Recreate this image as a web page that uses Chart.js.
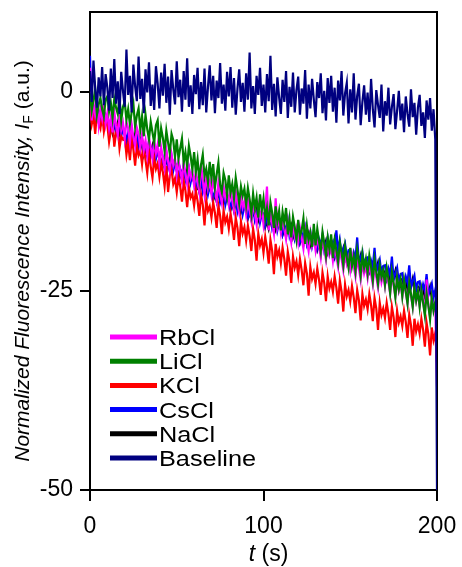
<!DOCTYPE html>
<html>
<head>
<meta charset="utf-8">
<script src="https://cdn.jsdelivr.net/npm/chart.js@4.4.1/dist/chart.umd.min.js"></script>
<style>
  html, body { margin: 0; padding: 0; background: #fff; }
  #wrap { width: 462px; height: 567px; }
</style>
</head>
<body>
<div id="wrap"><canvas id="fluoChart" width="462" height="567"></canvas></div>
<script>
// sampling grid, seconds (one reading per second)
const times = Array.from({ length: 201 }, (_, i) => i);

const xTicks = [0, 100, 200];
const yTicks = [-50, -25, 0];

// series, 201 points each (t = 0..200 s)
const rbcl = [
  3.0, -3.6, -1.4, -2.9, -1.8, -4.2, -2.3, -3.4, -1.6, -4.0,
  -2.7, -4.6, -3.2, -5.1, -2.5, -4.3, -5.4, -3.0, -4.8, -3.9,
  -5.9, -3.8, -4.6, -6.4, -4.1, -5.7, -6.8, -4.5, -5.3, -7.0,
  -5.4, -7.3, -6.1, -8.0, -5.8, -7.0, -8.4, -6.2, -7.7, -6.6,
  -8.9, -7.0, -8.3, -9.6, -7.3, -8.7, -10.0, -7.9, -9.2, -8.4,
  -10.4, -8.6, -9.9, -11.2, -8.8, -10.3, -11.6, -9.5, -10.8, -10.0,
  -11.8, -10.0, -11.4, -12.6, -9.0, -11.1, -12.9, -10.6, -12.2, -11.3,
  -12.9, -11.1, -12.4, -13.7, -11.4, -12.8, -14.0, -11.9, -13.3, -12.5,
  -14.1, -12.3, -13.6, -14.9, -12.6, -14.0, -15.2, -13.1, -14.5, -13.7,
  -15.4, -13.6, -14.9, -16.2, -13.9, -15.3, -16.6, -14.4, -15.8, -14.8,
  -16.7, -14.9, -11.9, -17.4, -15.2, -16.5, -17.8, -13.4, -17.0, -16.0,
  -17.7, -15.9, -17.2, -18.5, -16.2, -17.5, -18.9, -16.6, -18.1, -17.2,
  -18.9, -17.1, -18.4, -19.7, -17.3, -18.7, -20.0, -17.8, -19.3, -18.4,
  -19.9, -18.1, -19.4, -20.8, -18.4, -19.7, -21.1, -18.9, -20.4, -19.5,
  -21.2, -19.3, -20.7, -22.0, -19.6, -21.0, -22.4, -20.2, -21.6, -20.8,
  -22.4, -20.6, -21.9, -23.2, -20.9, -22.2, -23.6, -21.4, -22.8, -21.9,
  -23.4, -21.6, -22.9, -24.2, -21.8, -23.2, -24.6, -22.4, -23.9, -22.9,
  -24.4, -22.6, -23.9, -25.3, -22.9, -24.3, -25.7, -23.5, -25.0, -24.1,
  -25.7, -23.9, -25.2, -26.6, -24.2, -25.6, -27.0, -24.8, -26.3, -25.3,
  -26.9, -25.0, -26.4, -27.8, -23.6, -26.8, -28.2, -25.9, -27.4, -26.6,
  -37.0
];
const licl = [
  -0.2, -2.4, -1.1, 0.3, -2.9, -1.6, -0.8, -2.2, -3.1, -1.0,
  -0.6, -2.5, -1.4, -3.3, -0.9, -2.0, -2.8, -0.7, -3.6, -1.9,
  -1.3, -3.5, -2.2, -4.1, -2.6, -1.5, -4.4, -3.0, -2.1, -4.8,
  -3.1, -5.6, -2.9, -4.7, -6.0, -3.8, -5.1, -6.4, -4.2, -3.6,
  -6.9, -4.6, -5.8, -7.5, -4.9, -6.4, -7.8, -5.3, -6.1, -8.2,
  -6.0, -8.4, -7.1, -5.9, -8.9, -7.6, -9.4, -6.8, -8.1, -9.8,
  -7.6, -10.1, -8.5, -11.0, -9.2, -7.9, -10.6, -9.7, -11.4, -8.8,
  -10.9, -9.1, -12.0, -10.4, -8.9, -11.7, -12.6, -10.2, -11.1, -13.0,
  -10.5, -12.7, -11.6, -13.4, -10.8, -12.3, -14.0, -11.9, -13.1, -12.2,
  -14.2, -12.1, -13.5, -15.3, -12.8, -14.6, -13.3, -15.8, -12.9, -14.9,
  -13.4, -15.9, -14.6, -16.8, -13.9, -15.2, -17.1, -14.4, -16.3, -15.0,
  -17.4, -15.1, -16.5, -14.6, -17.9, -16.0, -18.3, -15.7, -17.0, -18.6,
  -16.1, -18.2, -17.4, -15.9, -19.1, -16.8, -18.6, -17.7, -19.5, -16.6,
  -19.3, -17.2, -18.8, -20.1, -17.6, -19.0, -20.6, -18.3, -19.8, -17.9,
  -20.9, -18.6, -19.9, -21.4, -18.9, -20.2, -21.8, -19.4, -20.8, -22.1,
  -19.6, -21.9, -20.7, -22.5, -19.8, -21.2, -23.0, -20.4, -22.1, -21.0,
  -22.8, -20.6, -22.0, -23.7, -21.1, -22.6, -24.1, -21.8, -23.3, -22.4,
  -24.2, -22.1, -23.5, -25.3, -22.6, -24.0, -25.8, -23.3, -24.8, -23.6,
  -25.7, -23.6, -25.1, -26.6, -24.0, -25.4, -27.0, -24.6, -26.2, -25.0,
  -27.0, -24.9, -26.5, -28.1, -25.3, -26.8, -28.6, -25.9, -27.5, -26.4,
  -28.3
];
const kcl = [
  -2.0, -4.1, -3.0, -5.3, -2.6, -3.9, -4.6, -2.8, -5.0, -3.7,
  -4.2, -6.3, -4.9, -3.8, -6.9, -5.2, -4.4, -7.1, -5.6, -6.0,
  -5.7, -7.9, -6.4, -8.6, -5.9, -7.2, -9.3, -6.8, -8.0, -7.4,
  -9.1, -7.0, -8.6, -10.2, -7.6, -9.4, -10.8, -8.3, -9.7, -9.0,
  -10.7, -8.9, -10.1, -11.9, -9.3, -12.6, -10.5, -9.8, -11.6, -10.9,
  -12.6, -10.7, -11.9, -13.8, -11.2, -12.4, -14.5, -12.0, -13.3, -12.8,
  -14.3, -12.4, -13.7, -15.6, -12.9, -14.2, -16.8, -13.6, -15.0, -14.4,
  -15.8, -13.9, -15.2, -17.1, -14.3, -15.6, -17.9, -14.9, -16.4, -15.7,
  -17.2, -15.3, -16.7, -18.6, -15.8, -17.1, -19.4, -16.3, -17.8, -17.0,
  -18.7, -16.8, -18.1, -20.0, -17.2, -18.6, -21.2, -17.8, -19.3, -18.5,
  -20.2, -18.2, -19.6, -21.6, -18.6, -20.0, -22.9, -19.1, -20.7, -19.9,
  -21.5, -19.6, -21.0, -23.1, -20.1, -21.4, -24.0, -20.7, -22.1, -21.3,
  -23.0, -21.0, -22.4, -24.3, -21.5, -22.8, -25.6, -22.0, -23.5, -22.7,
  -24.1, -22.2, -23.6, -25.5, -22.7, -24.0, -26.3, -23.2, -24.7, -23.9,
  -25.1, -23.2, -24.6, -26.6, -23.7, -25.1, -27.6, -24.2, -25.7, -24.9,
  -26.3, -24.4, -25.8, -27.8, -24.9, -26.2, -28.7, -25.4, -26.9, -26.1,
  -27.3, -25.4, -26.8, -28.8, -25.9, -27.2, -29.9, -26.5, -28.0, -27.2,
  -28.4, -26.5, -27.9, -29.9, -27.0, -28.3, -30.8, -27.5, -29.0, -28.2,
  -29.4, -27.5, -28.9, -30.9, -28.0, -29.3, -31.9, -28.5, -30.1, -29.2,
  -30.4, -28.5, -29.9, -32.0, -29.0, -30.4, -33.1, -29.6, -31.2, -30.3,
  -34.0
];
const cscl = [
  4.5, -3.9, -2.1, -3.3, -1.8, -2.6, -4.0, -2.4, -3.6, -2.9,
  -3.5, -5.0, -3.9, -4.8, -3.4, -5.3, -4.5, -3.8, -5.6, -4.6,
  -4.8, -6.3, -5.2, -6.0, -4.7, -6.6, -5.8, -5.1, -6.9, -5.9,
  -6.3, -7.8, -6.7, -7.5, -6.2, -8.1, -7.3, -6.6, -8.4, -7.4,
  -7.8, -9.3, -8.2, -9.0, -7.7, -9.6, -8.8, -8.1, -9.9, -8.9,
  -9.3, -10.8, -9.7, -10.5, -9.2, -11.1, -10.3, -9.6, -11.4, -10.4,
  -10.8, -12.3, -11.2, -12.0, -10.7, -12.6, -11.8, -11.1, -12.9, -11.9,
  -12.1, -13.6, -12.5, -13.3, -12.0, -13.9, -13.1, -12.4, -14.2, -13.2,
  -13.3, -14.8, -13.7, -14.5, -13.2, -15.1, -14.3, -13.6, -15.4, -14.4,
  -14.3, -15.8, -14.7, -15.5, -14.2, -16.1, -15.3, -14.6, -16.4, -15.4,
  -15.3, -16.8, -15.7, -16.5, -15.2, -17.1, -16.3, -15.6, -17.4, -16.4,
  -16.3, -17.8, -16.7, -17.5, -16.2, -18.1, -17.3, -16.6, -18.4, -17.4,
  -17.3, -18.8, -17.7, -18.5, -17.2, -19.1, -18.3, -17.6, -19.4, -18.4,
  -18.1, -19.6, -18.5, -19.3, -18.0, -19.9, -19.1, -18.4, -20.2, -19.2,
  -18.8, -20.3, -17.4, -20.0, -18.7, -20.6, -19.8, -19.1, -20.9, -19.9,
  -19.8, -21.3, -20.2, -21.0, -18.3, -21.6, -20.8, -20.1, -21.9, -20.9,
  -20.8, -22.3, -21.2, -22.0, -19.6, -22.6, -21.8, -21.1, -22.9, -21.9,
  -21.8, -23.3, -22.2, -23.0, -20.7, -23.6, -22.8, -22.1, -23.9, -22.9,
  -22.8, -24.3, -23.2, -24.0, -21.8, -24.6, -23.8, -23.1, -24.9, -23.9,
  -23.8, -25.3, -24.2, -25.0, -22.9, -25.6, -24.8, -24.1, -25.9, -24.9,
  -25.8
];
const nacl = [
  -2.5, -3.6, -2.9, -3.9, -2.7, -3.4, -2.4, -3.8, -3.1, -3.5,
  -4.0, -5.0, -4.3, -5.2, -4.1, -4.8, -3.9, -5.3, -4.6, -4.9,
  -5.4, -6.4, -5.7, -6.6, -5.5, -6.2, -5.3, -6.7, -6.0, -6.3,
  -6.9, -7.9, -7.2, -8.1, -7.0, -7.7, -6.8, -8.2, -7.5, -7.8,
  -8.4, -9.4, -8.7, -9.6, -8.5, -9.2, -8.3, -9.7, -9.0, -9.3,
  -9.9, -10.9, -10.2, -11.1, -10.0, -10.7, -9.8, -11.2, -10.5, -10.8,
  -11.4, -12.4, -11.7, -12.6, -11.5, -12.2, -11.3, -12.7, -12.0, -12.3,
  -12.6, -13.6, -12.9, -13.8, -12.7, -13.4, -12.5, -13.9, -13.2, -13.5,
  -13.8, -14.8, -14.1, -15.0, -13.9, -14.6, -13.7, -15.1, -14.4, -14.7,
  -14.9, -15.9, -15.2, -16.1, -15.0, -15.7, -14.8, -16.2, -15.5, -15.8,
  -16.0, -17.0, -16.3, -17.2, -16.1, -16.8, -15.9, -17.3, -16.6, -16.9,
  -17.0, -18.0, -17.3, -18.2, -17.1, -17.8, -16.9, -18.3, -17.6, -17.9,
  -18.0, -19.0, -18.3, -19.2, -18.1, -18.8, -17.9, -19.3, -18.6, -18.9,
  -18.9, -19.9, -19.2, -20.1, -19.0, -19.7, -18.8, -20.2, -19.5, -19.8,
  -19.8, -20.8, -20.1, -21.0, -19.9, -20.6, -19.7, -21.1, -20.4, -20.7,
  -20.7, -21.7, -21.0, -21.9, -20.8, -21.5, -20.6, -22.0, -21.3, -21.6,
  -21.6, -22.6, -21.9, -22.8, -21.7, -22.4, -21.5, -22.9, -22.2, -22.5,
  -22.6, -23.6, -22.9, -23.8, -22.7, -23.4, -22.5, -23.9, -23.2, -23.5,
  -23.6, -24.6, -23.9, -24.8, -23.7, -24.4, -23.5, -24.9, -24.2, -24.5,
  -24.6, -25.6, -24.9, -25.8, -24.7, -25.4, -24.5, -25.9, -25.2, -25.5,
  -26.0
];
const baseline = [
  2.6, -1.3, 3.9, 0.4, -2.0, 1.8, -0.6, 3.1, -1.7, 2.2,
  0.5, -2.4, 2.9, -0.8, 4.1, -1.5, 1.3, -2.8, 2.5, 0.1,
  -1.9, 5.3, -0.4, 2.0, -2.6, 3.4, 0.7, -1.2, 4.4, -0.9,
  1.6, -2.7, 2.8, -0.1, 3.7, -1.8, 0.9, -2.3, 3.2, 1.0,
  -2.1, 2.4, -0.5, 3.5, -1.4, 1.9, -2.9, 2.7, 0.3, -1.6,
  3.8, -0.7, 1.5, -2.5, 2.6, -1.0, 4.2, -1.9, 0.8, -2.8,
  2.1, -0.3, 3.0, -2.2, 1.2, -1.7, 2.9, -2.6, 0.6, 3.3,
  -1.1, 2.0, -2.7, 1.4, -0.8, 3.6, -1.5, 0.9, -2.4, 2.5,
  -0.6, 3.1, -2.0, 1.7, -2.9, 0.4, 2.8, -1.3, 1.1, -2.5,
  2.3, -1.0, 4.9, -2.1, 0.7, -2.8, 2.0, -0.4, 3.0, -1.8,
  0.9, -2.6, 2.2, -1.2, 4.5, -2.3, 1.0, -3.1, 1.8, -0.7,
  -2.8, 1.5, -1.3, 2.6, -3.3, 0.6, -1.9, 2.4, -2.6, 0.2,
  1.9, -2.9, 0.4, -1.5, 2.7, -3.4, 0.9, -2.1, 1.6, -1.0,
  -3.2, 1.2, -0.8, 2.3, -2.7, 0.1, -3.6, 1.7, -1.4, 2.0,
  -2.5, 0.5, -3.9, 1.4, -1.1, 2.6, -3.0, -0.2, 1.1, -4.0,
  0.3, -2.6, 2.3, -3.5, -0.5, 1.0, -4.2, -1.3, 0.8, -2.9,
  -0.1, -3.8, 1.6, -2.2, -4.5, 0.2, -1.7, -3.3, 0.9, -5.0,
  -1.2, -3.0, 0.5, -4.1, -1.9, -0.3, -4.7, -2.4, 0.1, -3.6,
  -1.5, -5.1, -0.6, -2.8, -4.4, 0.3, -3.2, -1.4, -5.4, -2.0,
  -0.4, -4.3, -2.6, -5.8, -1.1, -3.5, -0.8, -4.9, -2.2, -6.0,
  -50.0
];

const FONT = "'Liberation Sans', Arial, sans-serif";

function pts(values) { return values.map((v, i) => ({ x: times[i], y: v })); }

// legend drawn inside the plot, lower left
const insideLegend = {
  id: 'insideLegend',
  afterDraw(chart) {
    const { ctx, chartArea } = chart;
    const x0 = chartArea.left + 20, y0 = chartArea.bottom - 153, step = 24.2;
    ctx.save();
    chart.data.datasets.forEach((ds, i) => {
      const y = y0 + i * step;
      ctx.strokeStyle = ds.borderColor;
      ctx.lineWidth = 5;
      ctx.beginPath(); ctx.moveTo(x0, y); ctx.lineTo(x0 + 47, y); ctx.stroke();
      ctx.save();
      ctx.fillStyle = '#000';
      ctx.font = '22px ' + FONT;
      ctx.textBaseline = 'alphabetic';
      ctx.translate(x0 + 49, y + 8);
      ctx.scale(1.15, 1);
      ctx.fillText(ds.label, 0, 0);
      ctx.restore();
    });
    ctx.restore();
  }
};

// frame + axis titles (mixed italic / subscript)
const frameAndTitles = {
  id: 'frameAndTitles',
  beforeDatasetsDraw(chart) {
    const { ctx, chartArea: a } = chart;
    ctx.save();
    ctx.strokeStyle = '#000'; ctx.lineWidth = 2;
    ctx.beginPath();
    ctx.moveTo(a.left, a.top); ctx.lineTo(a.right, a.top); ctx.lineTo(a.right, a.bottom);
    ctx.stroke();
    ctx.restore();
  },
  afterDraw(chart) {
    const { ctx, chartArea: a } = chart;
    ctx.save();
    ctx.fillStyle = '#000';
    ctx.textBaseline = 'alphabetic';
    // y title
    const yParts = [
      ['Normalized Fluorescence Intensity, ', 'italic 21px ' + FONT, 0],
      ['I', 'italic 21px ' + FONT, 0],
      ['F', '14px ' + FONT, 4],
      [' (a.u.)', '21px ' + FONT, 0]
    ];
    ctx.translate(29, (a.top + a.bottom) / 2 + 10);
    ctx.rotate(-Math.PI / 2);
    let total = 0;
    yParts.forEach(p => { ctx.font = p[1]; total += ctx.measureText(p[0]).width; });
    let x = -total / 2;
    yParts.forEach(p => { ctx.font = p[1]; ctx.fillText(p[0], x, p[2]); x += ctx.measureText(p[0]).width; });
    ctx.restore();
    // x title
    ctx.save();
    ctx.fillStyle = '#000';
    const xParts = [['t', 'italic 23px ' + FONT], [' (s)', '23px ' + FONT]];
    total = 0;
    xParts.forEach(p => { ctx.font = p[1]; total += ctx.measureText(p[0]).width; });
    x = (a.left + a.right) / 2 + 5 - total / 2;
    xParts.forEach(p => { ctx.font = p[1]; ctx.fillText(p[0], x, 561); x += ctx.measureText(p[0]).width; });
    ctx.restore();
  }
};

const line = (label, data, color, order) => ({
  label, data: pts(data), borderColor: color, backgroundColor: color,
  borderWidth: 2.2, pointRadius: 0, tension: 0, fill: false, order
});

new Chart(document.getElementById('fluoChart'), {
  type: 'line',
  data: {
    datasets: [
      line('RbCl', rbcl, '#FF00FF', 2),
      line('LiCl', licl, '#008000', 1),
      line('KCl', kcl, '#FF0000', 3),
      line('CsCl', cscl, '#0000FF', 4),
      line('NaCl', nacl, '#000000', 5),
      line('Baseline', baseline, '#000080', 0)
    ]
  },
  options: {
    responsive: false, animation: false, events: [],
    layout: { padding: { top: 12, right: 25, left: 0, bottom: 0 } },
    plugins: { legend: { display: false }, tooltip: { enabled: false } },
    scales: {
      x: {
        type: 'linear', min: 0, max: 200,
        afterBuildTicks: s => { s.ticks = xTicks.map(v => ({ value: v })); },
        afterFit: s => { s.height = 77; s.paddingLeft = 0; s.paddingRight = 0; },
        grid: { drawOnChartArea: false, drawTicks: true, tickLength: 11, color: '#000', lineWidth: 2 },
        border: { color: '#000', width: 2 },
        ticks: { color: '#000', padding: 12, maxRotation: 0, font: { family: FONT, size: 23 } }
      },
      y: {
        type: 'linear', min: -50, max: 10,
        afterBuildTicks: s => { s.ticks = yTicks.map(v => ({ value: v })); },
        afterFit: s => { s.width = 90; s.paddingTop = 0; s.paddingBottom = 0; },
        grid: { drawOnChartArea: false, drawTicks: true, tickLength: 10, color: '#000', lineWidth: 2 },
        border: { color: '#000', width: 2 },
        ticks: { color: '#000', padding: 7, font: { family: FONT, size: 23 } }
      }
    }
  },
  plugins: [frameAndTitles, insideLegend]
});
</script>
</body>
</html>
